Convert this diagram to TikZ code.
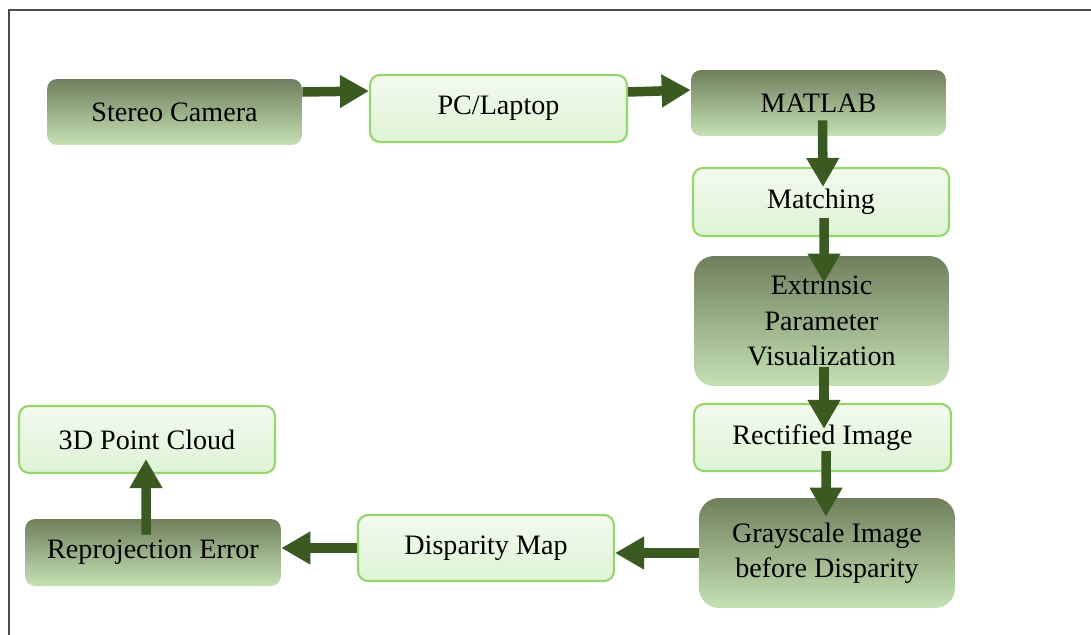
\documentclass[tikz,border=0pt]{standalone}
\usepackage{fontspec}
\setmainfont{Liberation Serif}
\usetikzlibrary{arrows.meta}
\definecolor{darktop}{RGB}{111,127,93}
\definecolor{darkbot}{RGB}{197,225,180}
\definecolor{lighttop}{RGB}{243,250,239}
\definecolor{lightbot}{RGB}{222,243,213}
\definecolor{lightline}{RGB}{150,212,108}
\definecolor{arrowgreen}{RGB}{59,90,34}

\tikzset{
  darkbox/.style={rounded corners=0.2cm, top color=darktop, bottom color=darkbot,
    minimum width=5.1cm, minimum height=1.32cm, align=center,
    font=\fontsize{16}{20}\selectfont},
  lightbox/.style={darkbox, draw=lightline, line width=1.2pt,
    top color=lighttop, bottom color=lightbot},
  bigarrow/.style={line width=0.19cm, draw=arrowgreen,
    -{Triangle[width=0.62cm,length=0.58cm]}}
}

\begin{document}
\begin{tikzpicture}[x=0.02cm, y=-0.02cm]
  \useasboundingbox (0,0) rectangle (1091,635);
  \draw[line width=0.04cm, gray!60!black] (1091,10) -- (9,10) -- (9,635);

  % top row
  \node[darkbox] (stereo) at (174.5,112) {Stereo Camera};
  \node[lightbox, minimum width=5.14cm, minimum height=1.34cm] (pc) at (498.5,108.5) {PC/Laptop};
  \node[darkbox] (matlab) at (818.5,103) {MATLAB};

  % right column
  \node[lightbox, minimum width=5.12cm, minimum height=1.36cm] (matching) at (821,202) {Matching};
  \node[darkbox, rounded corners=0.4cm, minimum height=2.6cm] (extrinsic) at (821.5,321)
    {Extrinsic\\Parameter\\Visualization};
  \node[lightbox, minimum width=5.14cm, minimum height=1.34cm] (rectified) at (822.5,437.5) {Rectified Image};
  \node[darkbox, rounded corners=0.4cm, minimum width=5.12cm, minimum height=2.2cm] (grayscale) at (827,553)
    {Grayscale Image\\before Disparity};

  % bottom row
  \node[lightbox, minimum width=5.12cm] (disparity) at (486,548) {Disparity Map};
  \node[darkbox, minimum width=5.12cm, minimum height=1.34cm] (reproj) at (153,552.5) {Reprojection Error};
  \node[lightbox, minimum width=5.12cm, minimum height=1.34cm] (cloud) at (147,439.5) {3D Point Cloud};

  % connectors
  \draw[bigarrow] ([yshift=0.4cm]stereo.east) -- ([yshift=0.35cm]pc.west);
  \draw[bigarrow] ([yshift=0.33cm]pc.east) -- ([yshift=0.26cm]matlab.west);
  \draw[bigarrow] ([xshift=0.08cm,yshift=0.32cm]matlab.south) -- ([xshift=0.04cm,yshift=-0.4cm]matching.north);
  \draw[bigarrow] ([xshift=0.06cm,yshift=0.38cm]matching.south) -- ([xshift=0.05cm,yshift=-0.54cm]extrinsic.north);
  \draw[bigarrow] ([xshift=0.05cm,yshift=0.38cm]extrinsic.south) -- ([xshift=0.03cm,yshift=-0.52cm]rectified.north);
  \draw[bigarrow] ([xshift=0.07cm,yshift=0.42cm]rectified.south) -- ([xshift=-0.02cm,yshift=-0.38cm]grayscale.north);
  \draw[bigarrow] (grayscale.west) -- (grayscale.west -| disparity.east);
  \draw[bigarrow] (disparity.west) -- (disparity.west -| reproj.east);
  \draw[bigarrow] ([xshift=-0.14cm,yshift=-0.32cm]reproj.north) -- ([xshift=-0.02cm,yshift=0.3cm]cloud.south);
\end{tikzpicture}
\end{document}
